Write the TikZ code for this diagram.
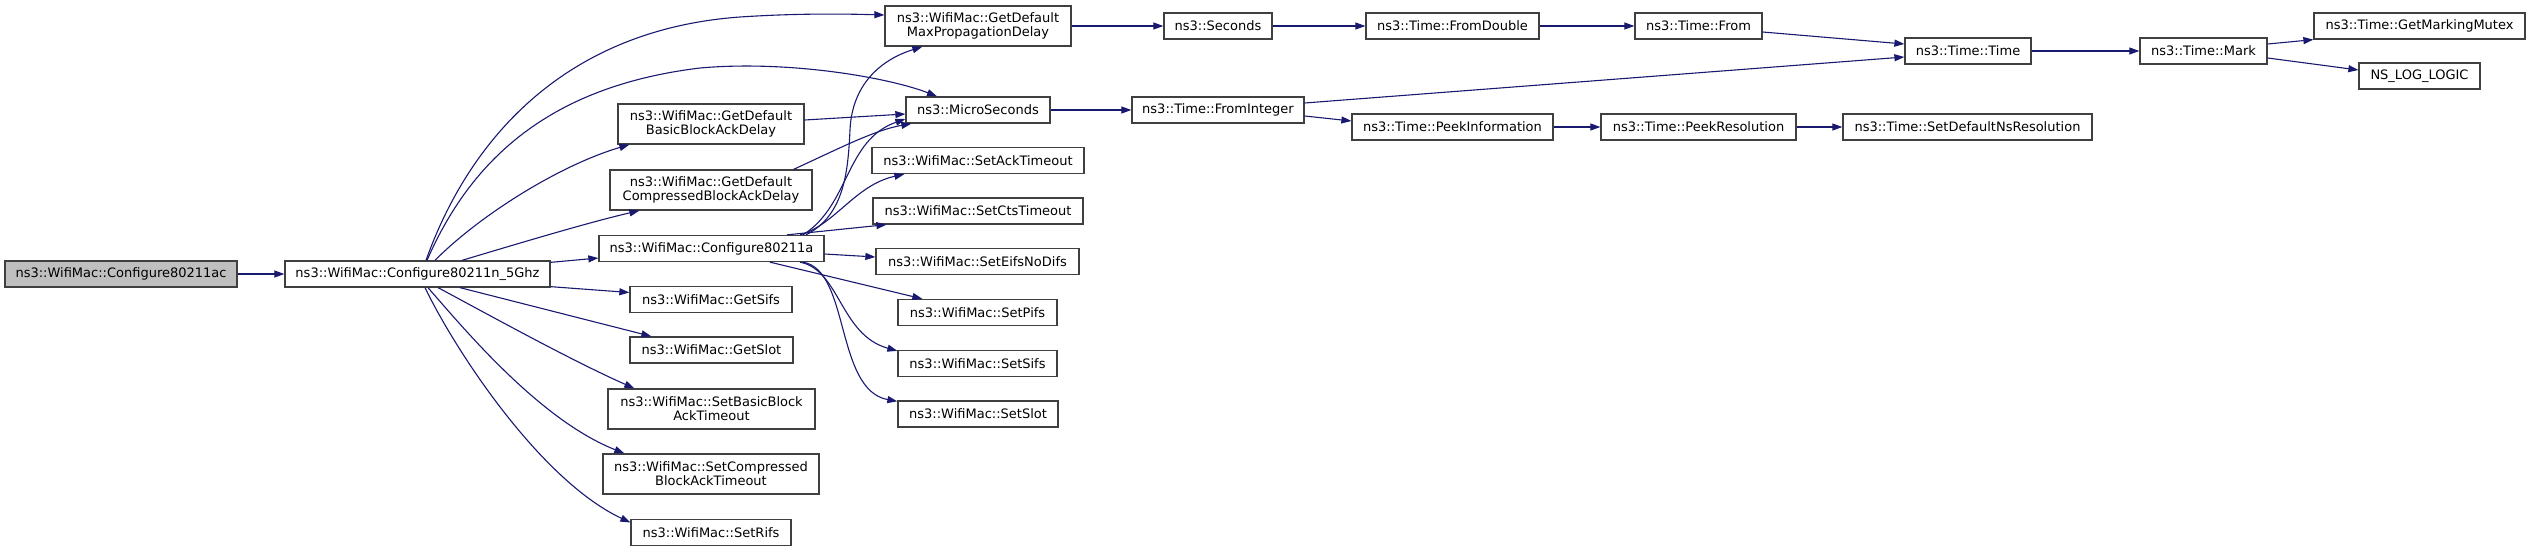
\documentclass[tikz,border=0pt]{standalone}
\usepackage{fontspec}
\setmainfont{DejaVu Sans}
\usetikzlibrary{arrows.meta,calc}
\definecolor{edgec}{HTML}{191970}
\definecolor{boxc}{HTML}{404040}
\definecolor{rootc}{HTML}{BFBFBF}
\begin{document}
\begin{tikzpicture}[x=1pt,y=-1pt,
  box/.style={draw=boxc, line width=1.3pt, fill=white, inner sep=0pt, align=center,
              font=\fontsize{13}{14}\selectfont},
  root/.style={box, fill=rootc},
  e/.style={draw=edgec, line width=1.1pt, -{Triangle[length=10pt,width=7pt]}}]
\useasboundingbox (0,0) rectangle (2531,551);
% column 0/1
\node[root, minimum width=232, minimum height=26] (ac) at (121,274) {ns3::WifiMac::Configure80211ac};
\node[box, minimum width=265, minimum height=26] (n5) at (417.5,274) {ns3::WifiMac::Configure80211n\_5Ghz};
% column 2
\node[box, minimum width=186, minimum height=40] (basic) at (711,124) {ns3::WifiMac::GetDefault\\BasicBlockAckDelay};
\node[box, minimum width=202, minimum height=40] (comp) at (711,190) {ns3::WifiMac::GetDefault\\CompressedBlockAckDelay};
\node[box, minimum width=225, minimum height=26] (a) at (711.5,248.5) {ns3::WifiMac::Configure80211a};
\node[box, minimum width=162, minimum height=26] (getsifs) at (711,299.5) {ns3::WifiMac::GetSifs};
\node[box, minimum width=163, minimum height=26] (getslot) at (711.5,350) {ns3::WifiMac::GetSlot};
\node[box, minimum width=207, minimum height=40] (setbasic) at (711.5,409) {ns3::WifiMac::SetBasicBlock\\AckTimeout};
\node[box, minimum width=216, minimum height=40] (setcomp) at (711,474) {ns3::WifiMac::SetCompressed\\BlockAckTimeout};
\node[box, minimum width=160, minimum height=26] (setrifs) at (711,532.5) {ns3::WifiMac::SetRifs};
% column 3
\node[box, minimum width=186, minimum height=40] (maxprop) at (978,26) {ns3::WifiMac::GetDefault\\MaxPropagationDelay};
\node[box, minimum width=144, minimum height=26] (micro) at (978,110) {ns3::MicroSeconds};
\node[box, minimum width=212, minimum height=26] (setack) at (978,160.5) {ns3::WifiMac::SetAckTimeout};
\node[box, minimum width=210, minimum height=26] (setcts) at (978,211) {ns3::WifiMac::SetCtsTimeout};
\node[box, minimum width=203, minimum height=26] (seteifs) at (977.5,261.5) {ns3::WifiMac::SetEifsNoDifs};
\node[box, minimum width=159, minimum height=26] (setpifs) at (977.5,312.5) {ns3::WifiMac::SetPifs};
\node[box, minimum width=159, minimum height=26] (setsifs) at (977.5,363.5) {ns3::WifiMac::SetSifs};
\node[box, minimum width=160, minimum height=26] (setslot) at (978,414) {ns3::WifiMac::SetSlot};
% column 4+
\node[box, minimum width=108, minimum height=26] (seconds) at (1218,26) {ns3::Seconds};
\node[box, minimum width=172, minimum height=26] (frominteger) at (1218,110) {ns3::Time::FromInteger};
\node[box, minimum width=173, minimum height=26] (fromdouble) at (1452.5,26) {ns3::Time::FromDouble};
\node[box, minimum width=201, minimum height=26] (peekinfo) at (1452.5,127) {ns3::Time::PeekInformation};
\node[box, minimum width=127, minimum height=26] (from) at (1698.5,26) {ns3::Time::From};
\node[box, minimum width=195, minimum height=26] (peekres) at (1698.5,127) {ns3::Time::PeekResolution};
\node[box, minimum width=126, minimum height=26] (time) at (1968,51) {ns3::Time::Time};
\node[box, minimum width=249, minimum height=26] (setdefault) at (1967.5,127) {ns3::Time::SetDefaultNsResolution};
\node[box, minimum width=127, minimum height=26] (mark) at (2203.5,51) {ns3::Time::Mark};
\node[box, minimum width=211, minimum height=26] (mutex) at (2419.5,26) {ns3::Time::GetMarkingMutex};
\node[box, minimum width=121, minimum height=26] (nslog) at (2419.5,76) {NS\_LOG\_LOGIC};
% edges
\draw[e] (ac.east) -- (n5.west);
\draw[e] ($(n5.north)+(8.5,0)$) .. controls (467,145) and (560,30) .. (740,17) .. controls (800,13) and (850,14) .. ($(maxprop.west)+(0,-11)$);
\draw[e] ($(n5.north)+(9.5,0)$) .. controls (475,150) and (560,85) .. (700,68) .. controls (790,60) and (890,78) .. ($(micro.north)+(-41,0)$);
\draw[e] ($(n5.north)+(17.5,0)$) .. controls (480,215) and (560,165) .. ($(basic.south west)+(12,0)$);
\draw[e] ($(n5.north)+(44.5,0)$) .. controls (520,243) and (590,222) .. ($(comp.south west)+(30,0)$);
\draw[e] ($(n5.north east)+(0,2)$) -- ($(a.west)+(0,9.5)$);
\draw[e] ($(n5.south east)+(0,-1)$) -- ($(getsifs.west)+(0,-7)$);
\draw[e] ($(n5.south)+(42.5,0)$) -- ($(getslot.north west)+(22,0)$);
\draw[e] ($(n5.south)+(20.5,0)$) .. controls (480,310) and (570,360) .. ($(setbasic.north west)+(27,0)$);
\draw[e] ($(n5.south)+(10.5,0)$) .. controls (465,330) and (540,420) .. ($(setcomp.north west)+(22,0)$);
\draw[e] ($(n5.south)+(7.5,0)$) .. controls (455,350) and (540,480) .. ($(setrifs.west)+(0,-10)$);
\draw[e] ($(basic.east)+(0,-4)$) -- ($(micro.west)+(0,4)$);
\draw[e] ($(comp.north east)+(-19,0)$) .. controls (840,148) and (875,130) .. ($(micro.south west)+(6,0)$);
\draw[e] ($(a.north)+(94.5,0)$) .. controls (845,215) and (848,170) .. (850,130) .. controls (852,85) and (880,60) .. ($(maxprop.south west)+(38,0)$);
\draw[e] ($(a.north)+(91.5,0)$) .. controls (850,205) and (845,140) .. ($(micro.west)+(0,9)$);
\draw[e] ($(a.north)+(88.5,0)$) .. controls (835,225) and (855,185) .. ($(setack.south west)+(33,0)$);
\draw[e] ($(a.north)+(75.5,0)$) -- ($(setcts.south west)+(14,0)$);
\draw[e] ($(a.east)+(0,5.5)$) -- ($(seteifs.west)+(0,-4.5)$);
\draw[e] ($(a.south)+(58.5,0)$) -- ($(setpifs.north west)+(25,0)$);
\draw[e] ($(a.south)+(88.5,0)$) .. controls (840,270) and (840,335) .. ($(setsifs.north west)+(0,1)$);
\draw[e] ($(a.south)+(91.5,0)$) .. controls (850,270) and (835,390) .. ($(setslot.north west)+(0,1)$);
\draw[e] (maxprop.east) -- (seconds.west);
\draw[e] (seconds.east) -- (fromdouble.west);
\draw[e] (fromdouble.east) -- (from.west);
\draw[e] ($(from.east)+(0,6)$) -- ($(time.west)+(0,-7)$);
\draw[e] (micro.east) -- (frominteger.west);
\draw[e] ($(frominteger.east)+(0,-7)$) -- ($(time.west)+(0,6)$);
\draw[e] ($(frominteger.east)+(0,6)$) -- ($(peekinfo.west)+(0,-6)$);
\draw[e] (peekinfo.east) -- (peekres.west);
\draw[e] (peekres.east) -- (setdefault.west);
\draw[e] (time.east) -- (mark.west);
\draw[e] ($(mark.east)+(0,-7)$) -- (mutex.south west);
\draw[e] ($(mark.east)+(0,7)$) -- ($(nslog.west)+(0,-6)$);
\end{tikzpicture}
\end{document}
